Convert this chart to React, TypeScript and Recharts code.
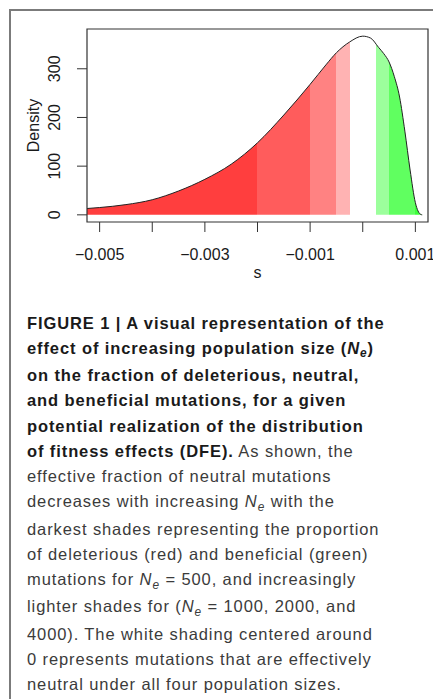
import React from 'react';
import { ComposedChart, Area, XAxis, YAxis, ReferenceArea, Label } from 'recharts';

// selection coefficient s and the estimated density of the DFE at each point
const sValues = [
  -0.00524, -0.005, -0.0045, -0.004, -0.0035, -0.003, -0.0025, -0.002, -0.0015, -0.001,
  -0.0007, -0.0005, -0.00025, 0, 0.00015, 0.0003, 0.0004, 0.0005, 0.0006, 0.0007,
  0.0008, 0.0009, 0.001, 0.00105, 0.0011, 0.00113,
];
const density = [
  13, 15, 21, 31, 49, 73, 104, 148, 205, 268,
  308, 333, 355, 367, 363, 344, 331, 314, 284, 242,
  172, 92, 25, 8, 1, 0,
];

// shading thresholds (1/Ne for Ne = 500, 1000, 2000, 4000) and the band colours
const bandEdges = [-0.002, -0.001, -0.0005, -0.00025, 0.00025, 0.0005, 0.001];
const bandColors = ['#ff3e3e', '#ff5c5c', '#ff8282', '#ffb3b3', '#ffffff', '#9cff9c', '#60ff60', '#3cff3c'];

const xTicks = [-0.005, -0.004, -0.003, -0.002, -0.001, 0, 0.001];
const xTickLabels = ['\u22120.005', '', '\u22120.003', '', '\u22120.001', '', '0.001'];
const yTicks = [0, 100, 200, 300];
const yTickLabels = ['0', '100', '200', '300'];

const xDomain: [number, number] = [-0.00524, 0.00124];
const yDomain: [number, number] = [-14.7, 381.7];

const chartData = sValues.map((s, i) => ({ s, d: density[i] }));

const AXIS_FONT = '"Liberation Sans", Arial, Helvetica, sans-serif';
const INK = '#333';

function XTick(props: any) {
  const { x, y, index } = props;
  const label = xTickLabels[index];
  if (!label) return null;
  return (
    <text x={x} y={y} dy={11.5} textAnchor="middle" fontSize={16} fontFamily={AXIS_FONT} fill="#1a1a1a">
      {label}
    </text>
  );
}

function YTick(props: any) {
  const { x, y, index } = props;
  return (
    <text
      x={x}
      y={y}
      transform={`rotate(-90 ${x} ${y})`}
      textAnchor="middle"
      fontSize={16}
      fontFamily={AXIS_FONT}
      fill="#1a1a1a"
    >
      {yTickLabels[index]}
    </text>
  );
}

function bandStops() {
  const sMin = sValues[0];
  const sMax = sValues[sValues.length - 1];
  const span = sMax - sMin;
  const edges = [sMin, ...bandEdges, sMax];
  const stops: React.ReactNode[] = [];
  for (let i = 0; i < bandColors.length; i++) {
    const a = Math.max(0, Math.min(1, (edges[i] - sMin) / span));
    const b = Math.max(0, Math.min(1, (edges[i + 1] - sMin) / span));
    stops.push(<stop key={`a${i}`} offset={a} stopColor={bandColors[i]} />);
    stops.push(<stop key={`b${i}`} offset={b} stopColor={bandColors[i]} />);
  }
  return stops;
}

const Ne = () => (
  <span style={{ fontStyle: 'italic' }}>
    N<span style={{ fontSize: '0.72em', position: 'relative', top: '0.28em' }}>e</span>
  </span>
);

export default function App() {
  return (
    <div
      style={{
        position: 'absolute',
        left: 0,
        top: 0,
        width: 433,
        height: 699,
        overflow: 'hidden',
        background: '#fff',
      }}
    >
      <div
        style={{
          position: 'absolute',
          left: 9,
          top: 9,
          width: 500,
          height: 800,
          borderLeft: '2px solid #7b7b7b',
          borderTop: '2px solid #7b7b7b',
        }}
      />
      <div style={{ position: 'absolute', left: 0, top: 0 }}>
        <ComposedChart
          width={433}
          height={290}
          data={chartData}
          margin={{ top: 29, right: 5, bottom: 0, left: 0 }}
        >
          <defs>
            <linearGradient id="dfeBands" x1="0" y1="0" x2="1" y2="0">
              {bandStops()}
            </linearGradient>
          </defs>
          <XAxis
            dataKey="s"
            type="number"
            domain={xDomain}
            ticks={xTicks}
            interval={0}
            height={68}
            axisLine={false}
            tickSize={10}
            tickMargin={16.5}
            tickLine={{ stroke: INK, strokeWidth: 1 }}
            tick={<XTick />}
            allowDataOverflow
          >
            <Label
              content={(p: any) => {
                const vb = p.viewBox;
                return (
                  <text
                    x={vb.x + vb.width / 2}
                    y={vb.y + 56}
                    textAnchor="middle"
                    fontSize={16}
                    fontFamily={AXIS_FONT}
                    fill="#1a1a1a"
                  >
                    s
                  </text>
                );
              }}
            />
          </XAxis>
          <YAxis
            type="number"
            domain={yDomain}
            ticks={yTicks}
            interval={0}
            width={87}
            axisLine={false}
            tickSize={10}
            tickMargin={17}
            tickLine={{ stroke: INK, strokeWidth: 1 }}
            tick={<YTick />}
            allowDataOverflow
          >
            <Label
              content={(p: any) => {
                const vb = p.viewBox;
                const cx = 39;
                const cy = vb.y + vb.height / 2;
                return (
                  <text
                    x={cx}
                    y={cy}
                    transform={`rotate(-90 ${cx} ${cy})`}
                    textAnchor="middle"
                    fontSize={16}
                    fontFamily={AXIS_FONT}
                    fill="#1a1a1a"
                  >
                    Density
                  </text>
                );
              }}
            />
          </YAxis>
          <Area
            type="monotone"
            dataKey="d"
            baseValue={0}
            stroke="#222"
            strokeWidth={1}
            fill="url(#dfeBands)"
            fillOpacity={1}
            dot={false}
            activeDot={false}
            isAnimationActive={false}
          />
          <ReferenceArea
            x1={xDomain[0]}
            x2={xDomain[1]}
            y1={yDomain[0]}
            y2={yDomain[1]}
            fill="none"
            stroke={INK}
            strokeWidth={1.2}
            ifOverflow="visible"
          />
        </ComposedChart>
      </div>
      <div
        style={{
          position: 'absolute',
          left: 27,
          top: 310.7,
          fontFamily: AXIS_FONT,
          fontSize: 16.5,
          letterSpacing: 0.9,
          lineHeight: '25.25px',
          color: '#3b3b3b',
          whiteSpace: 'nowrap',
        }}
      >
        <b style={{ color: '#1a1a1a' }}>
          FIGURE 1 | A visual representation of the
          <br />
          effect of increasing population size (<Ne />)
          <br />
          on the fraction of deleterious, neutral,
          <br />
          and beneficial mutations, for a given
          <br />
          potential realization of the distribution
          <br />
          of fitness effects (DFE).
        </b>{' '}
        As shown, the
        <br />
        effective fraction of neutral mutations
        <br />
        decreases with increasing <Ne /> with the
        <br />
        darkest shades representing the proportion
        <br />
        of deleterious (red) and beneficial (green)
        <br />
        mutations for <Ne /> = 500, and increasingly
        <br />
        lighter shades for (<Ne /> = 1000, 2000, and
        <br />
        4000). The white shading centered around
        <br />
        0 represents mutations that are effectively
        <br />
        neutral under all four population sizes.
      </div>
    </div>
  );
}
